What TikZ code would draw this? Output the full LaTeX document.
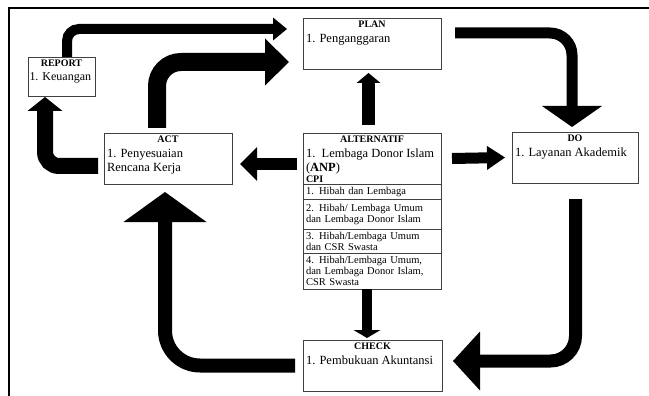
\documentclass[tikz,border=0pt]{standalone}
\usepackage{fontspec}
\setmainfont{Liberation Serif}
\usetikzlibrary{arrows.meta,positioning}

\newcommand{\ttl}{\fontsize{10}{12}\selectfont\bfseries}
\newcommand{\itm}{\normalfont\fontsize{12.5}{14.5}\selectfont}
\newcommand{\rowf}{\fontsize{10.5}{11}\selectfont}
\newcommand{\boxtxt}[3]{\parbox[c][#1][t]{#2}{#3}}

\begin{document}
\begin{tikzpicture}[x=1pt,y=-1pt,
  every node/.style={inner sep=3pt, outer sep=0pt},
  box/.style={draw=black!75, line width=0.7pt, fill=white},
  row/.style={draw=black!75, line width=0.7pt, text width=132pt, align=left, inner xsep=3pt, inner ysep=1pt, font=\rowf},
  fat/.style n args={3}{line width=#1, -{Triangle[length=#2 0, width=#3 0, line width=0pt 0]}},
  frame/.style={line width=1.3pt}]
\useasboundingbox (0,0) rectangle (649,396);
\draw[frame] (9,396) -- (9,8) -- (649,8);

\node[box, inner xsep=1.5pt] (report) at (61.5,76.5) {\boxtxt{33pt}{64pt}{\centering\ttl REPORT\par\raggedright\itm\fontsize{12}{14}\selectfont 1. Keuangan}};
\node[box] (plan) at (372,43.5) {\boxtxt{45pt}{132pt}{\centering\ttl PLAN\par\raggedright\itm 1. Penganggaran}};
\node[box] (act) at (168,158.5) {\boxtxt{45pt}{122pt}{\centering\ttl ACT\par\raggedright\itm 1. Penyesuaian\\Rencana Kerja}};
\node[box] (alt) at (372,158.5) {\boxtxt{45pt}{132pt}{\centering\ttl ALTERNATIF\par\raggedright\itm 1.\ \ Lembaga Donor Islam\\(\textbf{ANP})\par{\ttl\fontsize{10}{11}\selectfont CPI\par}}};
\node[row, minimum height=15pt, below=0pt of alt] (alta) {1. Hibah dan Lembaga};
\node[row, minimum height=30pt, below=0pt of alta] (altb) {2. Hibah/ Lembaga Umum\\dan Lembaga Donor Islam};
\node[row, minimum height=24pt, below=0pt of altb] (altc) {3. Hibah/Lembaga Umum\\dan CSR Swasta};
\node[row, minimum height=36pt, below=0pt of altc] (altd) {4. Hibah/Lembaga Umum,\\dan Lembaga Donor Islam,\\CSR Swasta};
\node[box] (do) at (575,157.5) {\boxtxt{45pt}{120pt}{\centering\ttl DO\par\raggedright\itm 1. Layanan Akademik}};
\node[box] (check) at (372.5,365.5) {\boxtxt{45pt}{133pt}{\centering\ttl CHECK\par\raggedright\itm 1. Pembukuan Akuntansi}};

\draw[fat={10pt}{14pt}{23pt}, rounded corners=12pt] ([xshift=5.5pt]report.north) |- ([xshift=-16pt,yshift=14.5pt]plan.west);
\draw[fat={18pt}{24pt}{47pt}, rounded corners=24pt] ([xshift=-11pt,yshift=5pt]act.north) |- ([xshift=-14pt,yshift=-18.5pt]plan.west);
\draw[fat={16pt}{14pt}{35pt}, rounded corners=14pt] ([xshift=-6pt,yshift=-7.5pt]act.west) -| ([xshift=-16.5pt,yshift=-1pt]report.south);
\draw[fat={13pt}{10pt}{24pt}] ([xshift=-3.5pt,yshift=8pt]alt.north) -- ([xshift=-3.5pt,yshift=-4pt]plan.south);
\draw[fat={12pt}{17pt}{34pt}] ([xshift=-6pt,yshift=-5.5pt]alt.west) -- ([xshift=8pt,yshift=-5.5pt]act.east);
\draw[fat={11pt}{18pt}{24pt}] ([xshift=11pt]alt.east) -- ([xshift=-7pt]do.west);
\draw[fat={11pt}{21pt}{60pt}, rounded corners=22pt] ([xshift=14pt,yshift=10.5pt]plan.east) -| ([xshift=-3pt,yshift=5pt]do.north);
\draw[fat={13pt}{27pt}{59pt}, rounded corners=25pt] ([xshift=0.5pt,yshift=-16pt]do.south) |- ([xshift=11pt,yshift=4.5pt]check.east);
\draw[fat={14pt}{30pt}{83pt}, rounded corners=35pt] ([xshift=-8pt]check.west) -| ([xshift=-3pt,yshift=-8pt]act.south);
\draw[fat={10pt}{8pt}{27pt}] ([xshift=-5pt]altd.south) -- ([xshift=-5.5pt,yshift=2pt]check.north);
\end{tikzpicture}
\end{document}
